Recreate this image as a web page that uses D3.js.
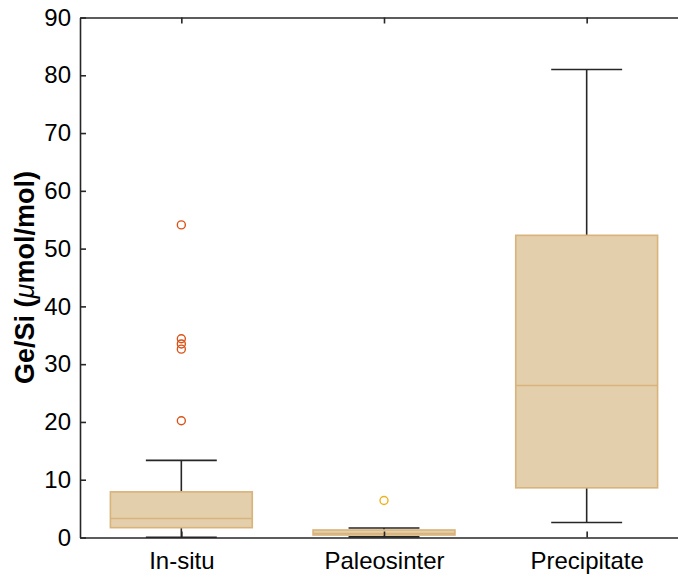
<!DOCTYPE html>
<html>
<head>
<meta charset="utf-8">
<script src="https://cdn.jsdelivr.net/npm/d3@7/dist/d3.min.js"></script>
<style>
  html, body { margin: 0; padding: 0; background: #fff; }
  svg { display: block; font-family: "Liberation Sans", Arial, Helvetica, sans-serif; }
</style>
</head>
<body>
<svg id="chart" width="678" height="577"></svg>
<script>
// Ge/Si ratios by sample type (µmol/mol): box statistics per group
const categories   = ["In-situ", "Paleosinter", "Precipitate"];
const whiskerLow   = [0.05, 0.1, 2.6];
const quartile1    = [1.7, 0.43, 8.6];
const medians      = [3.3, 0.7, 26.3];
const quartile3    = [7.9, 1.3, 52.3];
const whiskerHigh  = [13.35, 1.65, 81.0];
const outliers     = [[20.2, 32.6, 33.5, 34.4, 54.1], [6.4], []];
const outlierColor = ["#D95319", "#EDB120", "#7E2F8E"];
const yTicks       = [0, 10, 20, 30, 40, 50, 60, 70, 80, 90];

const svg = d3.select("#chart");
const margin = { left: 80, top: 17.5, right: 688, bottom: 537.5 };

const x = d3.scaleLinear().domain([0.5, 3.5]).range([margin.left, margin.right]);
const y = d3.scaleLinear().domain([0, 90]).range([margin.bottom, margin.top]);

const boxW = x(1.35) - x(1);   // half box width (0.35 units)
const capW = x(1.175) - x(1);  // half whisker-cap width

const groups = categories.map((c, i) => ({
  name: c, pos: i + 1,
  lo: whiskerLow[i], q1: quartile1[i], med: medians[i], q3: quartile3[i], hi: whiskerHigh[i],
  out: outliers[i], color: outlierColor[i]
}));

const ink = "#262626";
const boxFill = "#E4CFAC";
const boxEdge = "#D8B37B";

const g = svg.append("g");

// whiskers
groups.forEach(d => {
  const cx = x(d.pos);
  const w = g.append("g").attr("stroke", ink).attr("stroke-width", 1.6).attr("fill", "none");
  w.append("line").attr("x1", cx).attr("x2", cx).attr("y1", y(d.q3)).attr("y2", y(d.hi));
  w.append("line").attr("x1", cx).attr("x2", cx).attr("y1", y(d.q1)).attr("y2", y(d.lo));
  w.append("line").attr("x1", cx - capW).attr("x2", cx + capW).attr("y1", y(d.hi)).attr("y2", y(d.hi));
  w.append("line").attr("x1", cx - capW).attr("x2", cx + capW).attr("y1", y(d.lo)).attr("y2", y(d.lo));
});

// boxes
g.selectAll("rect.box").data(groups).join("rect")
  .attr("class", "box")
  .attr("x", d => x(d.pos) - boxW)
  .attr("width", 2 * boxW)
  .attr("y", d => y(d.q3))
  .attr("height", d => y(d.q1) - y(d.q3))
  .attr("fill", boxFill)
  .attr("stroke", boxEdge)
  .attr("stroke-width", 1.6);

// medians
g.selectAll("line.median").data(groups).join("line")
  .attr("class", "median")
  .attr("x1", d => x(d.pos) - boxW)
  .attr("x2", d => x(d.pos) + boxW)
  .attr("y1", d => y(d.med))
  .attr("y2", d => y(d.med))
  .attr("stroke", boxEdge)
  .attr("stroke-width", 1.6);

// outliers
groups.forEach(d => {
  g.selectAll(null).data(d.out).join("circle")
    .attr("cx", x(d.pos))
    .attr("cy", v => y(v))
    .attr("r", 4)
    .attr("fill", "none")
    .attr("stroke", d.color)
    .attr("stroke-width", 1.4);
});

// axes (ticks point inward)
const fontSize = 24;
const xAxis = svg.append("g")
  .attr("transform", `translate(0,${margin.bottom})`)
  .call(d3.axisBottom(x).tickValues([1, 2, 3]).tickFormat(v => categories[v - 1])
    .tickSizeInner(-6).tickSizeOuter(0).tickPadding(14));
const xTop = svg.append("g")
  .attr("transform", `translate(0,${margin.top})`)
  .call(d3.axisTop(x).tickValues([1, 2, 3]).tickFormat("")
    .tickSizeInner(-6).tickSizeOuter(0));
const yAxis = svg.append("g")
  .attr("transform", `translate(${margin.left},0)`)
  .call(d3.axisLeft(y).tickValues(yTicks).tickFormat(d3.format("d"))
    .tickSizeInner(-6).tickSizeOuter(0).tickPadding(9));

[xAxis, xTop, yAxis].forEach(a => {
  a.select(".domain").attr("stroke", ink).attr("stroke-width", 1.6);
  a.selectAll(".tick line").attr("stroke", ink).attr("stroke-width", 1.6);
  a.selectAll(".tick text").attr("fill", "#000").style("font-size", fontSize + "px")
    .style("font-family", "'Liberation Sans', Arial, Helvetica, sans-serif");
});

// y-axis title
const title = svg.append("text")
  .attr("transform", `translate(34,${(margin.top + margin.bottom) / 2}) rotate(-90)`)
  .attr("text-anchor", "middle")
  .style("font-size", "27px")
  .style("font-weight", "bold")
  .attr("fill", "#000");
title.append("tspan").text("Ge/Si (");
title.append("tspan").style("font-style", "italic").style("font-weight", "normal").text("\u03BC");
title.append("tspan").text("mol/mol)");
</script>
</body>
</html>
